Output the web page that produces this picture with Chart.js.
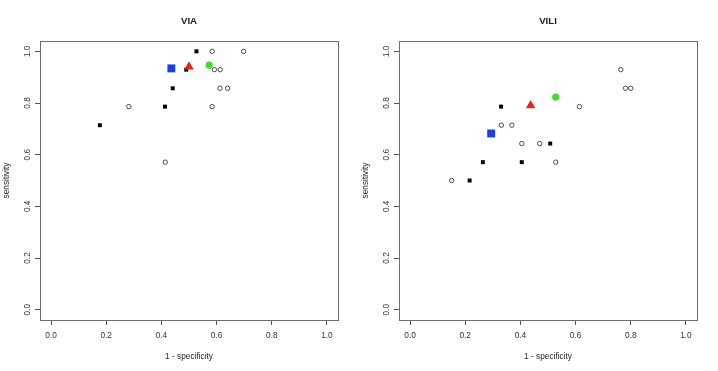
<!DOCTYPE html>
<html>
<head>
<meta charset="utf-8">
<script src="https://cdn.jsdelivr.net/npm/chart.js@4.4.0/dist/chart.umd.min.js"></script>
<style>
  body { margin: 0; background: #fff; }
  #wrap { display: flex; width: 718px; height: 371px; }
  canvas { display: block; }
</style>
</head>
<body>
<div id="wrap">
  <canvas id="via" width="359" height="371"></canvas>
  <canvas id="vili" width="359" height="371"></canvas>
</div>
<script>
const tickValues = [0, 0.2, 0.4, 0.6, 0.8, 1.0];

// VIA panel
const viaFilledX = [0.527, 0.490, 0.441, 0.413, 0.177];
const viaFilledY = [1.000, 0.929, 0.857, 0.786, 0.714];
const viaOpenX = [0.584, 0.698, 0.592, 0.613, 0.612, 0.640, 0.282, 0.584, 0.414];
const viaOpenY = [1.000, 1.000, 0.929, 0.929, 0.857, 0.857, 0.786, 0.786, 0.571];
const viaBlue = [0.436, 0.934];
const viaRed = [0.500, 0.940];
const viaGreen = [0.573, 0.947];

// VILI panel
const viliFilledX = [0.330, 0.508, 0.264, 0.405, 0.216];
const viliFilledY = [0.786, 0.643, 0.571, 0.571, 0.500];
const viliOpenX = [0.764, 0.781, 0.800, 0.614, 0.331, 0.369, 0.405, 0.470, 0.528, 0.151];
const viliOpenY = [0.929, 0.857, 0.857, 0.786, 0.714, 0.714, 0.643, 0.643, 0.571, 0.500];
const viliBlue = [0.294, 0.682];
const viliRed = [0.437, 0.790];
const viliGreen = [0.528, 0.823];

const FONT = 'Liberation Sans, Arial, sans-serif';

function pts(xs, ys) {
  return xs.map((x, i) => ({ x: x, y: ys[i] }));
}

// R style box around the plot plus the title over the plot centre
const boxPlugin = {
  id: 'rbox',
  afterDraw(chart, args, opts) {
    const a = chart.chartArea;
    const ctx = chart.ctx;
    ctx.save();
    ctx.strokeStyle = '#6e6e6e';
    ctx.lineWidth = 1;
    ctx.strokeRect(Math.round(a.left) + 0.5, Math.round(a.top) + 0.5,
      Math.round(a.right - a.left), Math.round(a.bottom - a.top));
    ctx.fillStyle = '#222';
    ctx.font = 'bold 9.6px ' + FONT;
    ctx.textAlign = 'center';
    ctx.textBaseline = 'middle';
    ctx.fillText(opts.text, (a.left + a.right) / 2, 21);
    ctx.restore();
  }
};

function makeChart(id, title, fx, fy, ox, oy, blue, red, green) {
  const axisCommon = {
    type: 'linear',
    min: -0.04,
    max: 1.04,
    afterBuildTicks: s => { s.ticks = tickValues.map(v => ({ value: v })); },
    grid: { drawOnChartArea: false, drawTicks: true, tickLength: 5, color: '#555', tickWidth: 1 },
    border: { display: false }
  };
  return new Chart(document.getElementById(id).getContext('2d'), {
    type: 'scatter',
    data: {
      datasets: [
        { data: [{ x: red[0], y: red[1] }], pointStyle: 'triangle', radius: 5.5,
          backgroundColor: '#e2261c', borderColor: '#e2261c', borderWidth: 0 },
        { data: [{ x: green[0], y: green[1] }], pointStyle: 'circle', radius: 3.6,
          backgroundColor: '#3ddc2e', borderColor: '#3ddc2e', borderWidth: 0 },
        { data: [{ x: blue[0], y: blue[1] }], pointStyle: 'rect', radius: 5.6,
          backgroundColor: '#1c3fd9', borderColor: '#1c3fd9', borderWidth: 0 },
        { data: pts(fx, fy), pointStyle: 'rect', radius: 2.8,
          backgroundColor: '#000', borderColor: '#000', borderWidth: 0 },
        { data: pts(ox, oy), pointStyle: 'circle', radius: 2.2,
          backgroundColor: '#fff', borderColor: '#222', borderWidth: 0.8 }
      ]
    },
    options: {
      responsive: false,
      animation: false,
      events: [],
      layout: { padding: { top: 41, right: 21, left: 0, bottom: 0 } },
      plugins: {
        legend: { display: false },
        tooltip: { enabled: false },
        rbox: { text: title }
      },
      scales: {
        x: Object.assign({}, axisCommon, {
          position: 'bottom',
          afterFit: s => { s.height = 51; },
          ticks: { padding: 6, color: '#333', font: { family: FONT, size: 8.3 },
            maxRotation: 0, minRotation: 0, callback: v => v.toFixed(1) },
          title: { display: true, text: '1 - specificity', color: '#222',
            font: { family: FONT, size: 8.3 }, padding: { top: 0, bottom: 9 } }
        }),
        y: Object.assign({}, axisCommon, {
          position: 'left',
          afterFit: s => { s.width = 40; },
          ticks: { padding: 2, color: '#333', font: { family: FONT, size: 8.3 },
            minRotation: 90, maxRotation: 90, crossAlign: 'center',
            callback: v => v.toFixed(1) },
          title: { display: true, text: 'sensitivity', color: '#222',
            font: { family: FONT, size: 8.3 }, padding: { top: 2, bottom: 0 } }
        })
      }
    },
    plugins: [boxPlugin]
  });
}

makeChart('via', 'VIA', viaFilledX, viaFilledY, viaOpenX, viaOpenY, viaBlue, viaRed, viaGreen);
makeChart('vili', 'VILI', viliFilledX, viliFilledY, viliOpenX, viliOpenY, viliBlue, viliRed, viliGreen);
</script>
</body>
</html>
